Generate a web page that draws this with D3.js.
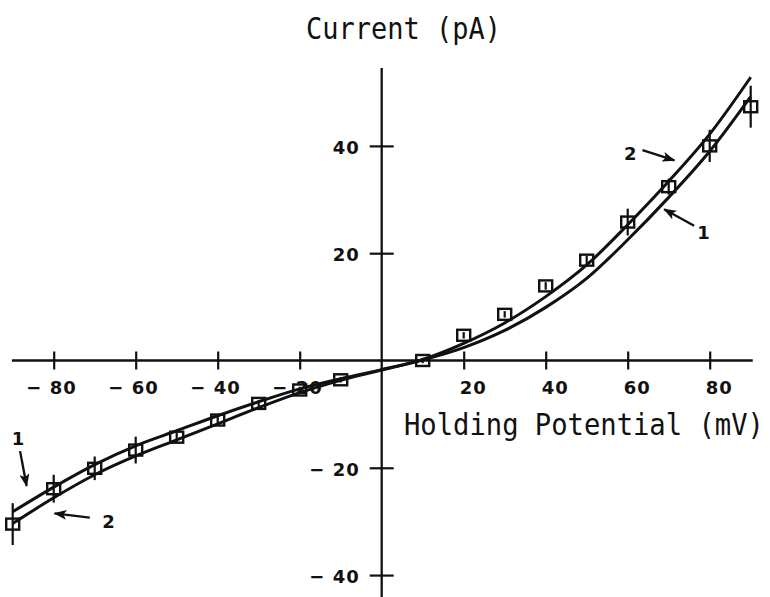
<!DOCTYPE html>
<html>
<head>
<meta charset="utf-8">
<script src="https://cdn.jsdelivr.net/npm/d3@7"></script>
<style>
  html, body { margin: 0; padding: 0; background: #fff; }
  svg { display: block; }
</style>
</head>
<body>
<svg id="chart" width="770" height="597"></svg>
<script>
// Holding potential (mV) at which the fitted curves are sampled
const curveVoltage = [-90, -80, -70, -60, -50, -40, -30, -20, -10, 0, 10, 20, 30, 40, 50, 60, 70, 80, 90];
// Fitted current curves (pA)
const curve1 = [-28.2, -23.6, -19.4, -15.9, -13.1, -10.3, -7.7, -5.3, -3.4, -1.7, 0.1, 2.4, 5.6, 9.9, 15.3, 22.5, 30.4, 39.0, 49.2];
const curve2 = [-30.4, -25.6, -21.3, -17.8, -14.8, -11.8, -8.8, -6.0, -3.7, -1.8, 0.2, 3.2, 7.0, 11.9, 17.8, 25.3, 33.4, 42.2, 52.8];

// Measured currents: holding potential, mean and error
const pointVoltage = [-90, -80, -70, -60, -50, -40, -30, -20, -10, 10, 20, 30, 40, 50, 60, 70, 80, 90];
const pointCurrent = [-30.5, -23.9, -20.1, -16.7, -14.3, -11.1, -8.0, -5.5, -3.6, 0.0, 4.7, 8.6, 13.9, 18.7, 25.8, 32.4, 40.0, 47.3];
const pointError   = [3.9, 2.6, 2.2, 2.5, 0.9, 0.8, 0.6, 0.6, 0.5, 0.5, 0.6, 0.6, 0.7, 0.8, 2.5, 1.5, 3.0, 3.9];

// Tick labels
const xTicks = [-80, -60, -40, -20, 20, 40, 60, 80];
const yTicks = [-40, -20, 20, 40];

// Curve labels: text, label position, arrow start and arrow tip (mV, pA)
const labelText  = ["2", "1", "1", "2"];
const labelAt    = [[60.6, 38.6], [78.5, 23.8], [-88.7, -14.6], [-66.6, -30.0]];
const arrowFrom  = [[63.6, 39.2], [76.2, 25.1], [-88.2, -16.9], [-71.2, -29.3]];
const arrowTo    = [[71.4, 37.3], [68.9, 28.2], [-86.6, -23.4], [-79.8, -28.5]];

const svg = d3.select("#chart");

const x = d3.scaleLinear().domain([-90, 90]).range([12.7, 750.7]);
const y = d3.scaleLinear().domain([-45, 54.5]).range([601.9, 68.1]);

const ink = "#111";
const tickFont = "'DejaVu Sans', Verdana, sans-serif";
const titleFont = "'DejaVu Sans Mono', 'Liberation Mono', monospace";
const fmt = d => d < 0 ? "\u2212 " + Math.abs(d) : String(d);

// Axes crossing at the origin
svg.append("line")
  .attr("x1", x(-90.2)).attr("x2", x(90.5))
  .attr("y1", y(0)).attr("y2", y(0))
  .attr("stroke", ink).attr("stroke-width", 2.3);
svg.append("line")
  .attr("x1", x(0)).attr("x2", x(0))
  .attr("y1", y(54.5)).attr("y2", 597)
  .attr("stroke", ink).attr("stroke-width", 2.3);

const gx = svg.append("g")
  .attr("transform", `translate(0,${y(0)})`)
  .call(d3.axisBottom(x).tickValues(xTicks).tickSizeInner(9).tickSizeOuter(0).tickFormat(fmt));
gx.select(".domain").remove();
gx.selectAll(".tick line").attr("y1", -9).attr("y2", 9).attr("stroke", ink).attr("stroke-width", 2.2);
gx.selectAll(".tick text")
  .attr("dy", null).attr("y", 34).attr("x", 22.5)
  .attr("text-anchor", "end")
  .attr("fill", ink)
  .style("font-family", tickFont).style("font-weight", "bold")
  .style("font-size", "18px").style("letter-spacing", "1px");

const gy = svg.append("g")
  .attr("transform", `translate(${x(0)},0)`)
  .call(d3.axisLeft(y).tickValues(yTicks).tickSizeInner(12).tickSizeOuter(0).tickFormat(fmt));
gy.select(".domain").remove();
gy.selectAll(".tick line").attr("x1", -12).attr("x2", 12).attr("stroke", ink).attr("stroke-width", 2.2);
gy.selectAll(".tick text")
  .attr("dy", null).attr("y", 7.5).attr("x", -22)
  .attr("text-anchor", "end")
  .attr("fill", ink)
  .style("font-family", tickFont).style("font-weight", "bold")
  .style("font-size", "18px").style("letter-spacing", "1px");

// Fitted curves
const line = d3.line()
  .x((d, i) => x(curveVoltage[i]))
  .y(d => y(d))
  .curve(d3.curveMonotoneX);

[curve1, curve2].forEach(c => {
  svg.append("path")
    .attr("d", line(c))
    .attr("fill", "none")
    .attr("stroke", ink)
    .attr("stroke-width", 3)
    .attr("stroke-linejoin", "round");
});

// Measured points: error bars and open squares
const pts = pointVoltage.map((v, i) => ({ v, c: pointCurrent[i], e: pointError[i] }));
const gp = svg.append("g");
gp.selectAll("line.err").data(pts).join("line")
  .attr("class", "err")
  .attr("x1", d => x(d.v)).attr("x2", d => x(d.v))
  .attr("y1", d => y(d.c + d.e)).attr("y2", d => y(d.c - d.e))
  .attr("stroke", ink).attr("stroke-width", 2.2);
gp.selectAll("rect").data(pts).join("rect")
  .attr("x", d => x(d.v) - 6.5).attr("y", d => y(d.c) - 5.5)
  .attr("width", 13).attr("height", 11)
  .attr("fill", "none")
  .attr("stroke", ink).attr("stroke-width", 2.4);

// Arrows pointing to each curve
svg.append("defs").append("marker")
  .attr("id", "head")
  .attr("viewBox", "0 -5 13 10")
  .attr("refX", 12).attr("refY", 0)
  .attr("markerUnits", "userSpaceOnUse")
  .attr("markerWidth", 13).attr("markerHeight", 10)
  .attr("orient", "auto")
  .append("path")
  .attr("d", "M0,-5L13,0L0,5L3,0Z")
  .attr("fill", ink);

arrowFrom.forEach((f, i) => {
  svg.append("line")
    .attr("x1", x(f[0])).attr("y1", y(f[1]))
    .attr("x2", x(arrowTo[i][0])).attr("y2", y(arrowTo[i][1]))
    .attr("stroke", ink).attr("stroke-width", 2.3)
    .attr("marker-end", "url(#head)");
});

labelText.forEach((t, i) => {
  svg.append("text")
    .attr("x", x(labelAt[i][0])).attr("y", y(labelAt[i][1]))
    .attr("text-anchor", "middle")
    .attr("dominant-baseline", "central")
    .attr("fill", ink)
    .style("font-family", tickFont).style("font-weight", "bold")
    .style("font-size", "18px")
    .text(t);
});

// Axis titles in a narrow plotter-style monospace: squeeze horizontally to a set width
function title(text, left, baseline, width) {
  const t = svg.append("text")
    .attr("x", 0).attr("y", 0)
    .attr("fill", ink)
    .style("font-family", titleFont).style("font-size", "31px")
    .text(text);
  const natural = t.node().getComputedTextLength();
  t.attr("transform", `translate(${left},${baseline}) scale(${width / natural},1)`);
}
title("Current (pA)", 306, 38.5, 195);
title("Holding Potential (mV)", 404, 435, 360);
</script>
</body>
</html>
